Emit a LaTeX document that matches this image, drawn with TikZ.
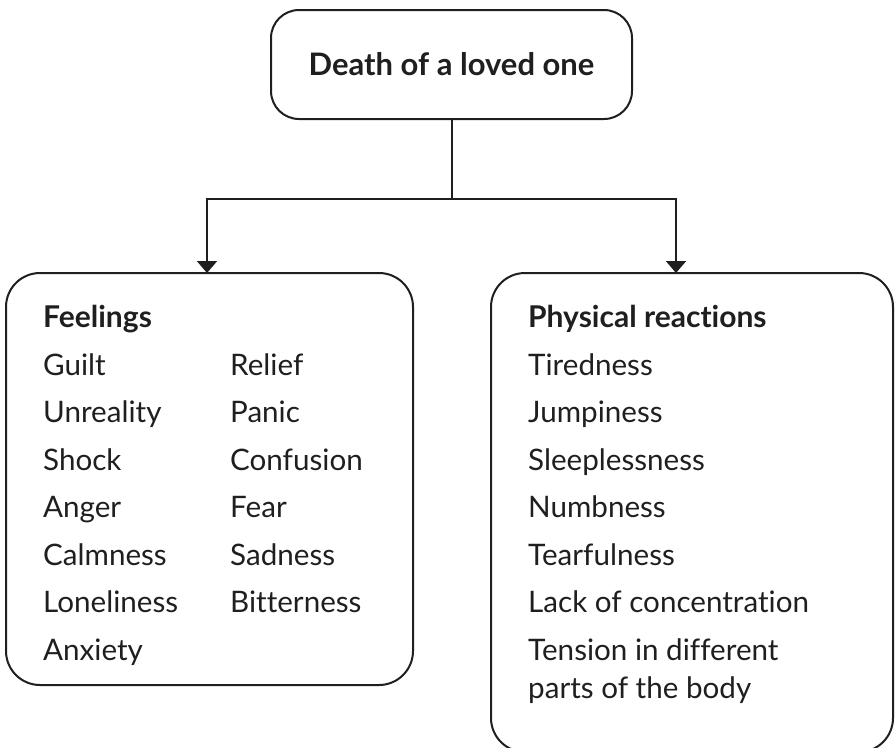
\documentclass[tikz,border=0pt]{standalone}
\usepackage{fontspec}
\setmainfont{Lato}[Ligatures=NoCommon]
\usetikzlibrary{arrows.meta}
\tikzset{
  box/.style={draw=black!88, line width=2pt, rounded corners=34pt, inner sep=0pt},
  topbox/.style={draw=black!88, line width=2pt, rounded corners=28pt, inner sep=0pt, minimum width=361pt, minimum height=109pt, font=\fontsize{31}{36}\selectfont\bfseries},
  item/.style={anchor=base west, inner sep=0pt, text=black!88, font=\fontsize{29.6}{34}\selectfont},
  head/.style={item, font=\fontsize{30}{34}\selectfont\bfseries},
  conn/.style={draw=black!88, line width=2pt},
  arr/.style={conn, -{Triangle[width=20pt,length=12pt]}}
}
\begin{document}
\begin{tikzpicture}[x=1pt,y=-1pt]
\useasboundingbox (0,0) rectangle (896,747);
\node[topbox, text=black!88] (top) at (451.5,64.5) {Death of a loved one};
\node[box, minimum width=407pt, minimum height=412pt] (left) at (209.5,479) {};
\node[box, minimum width=402pt, minimum height=479pt] (right) at (692,512.5) {};
\coordinate (j) at (451.5,199);
\coordinate (rtip) at (676,273);
\coordinate (ltip) at (207,273);
\draw[conn] (top.south) -- (j);
\draw[arr] (j) -| (ltip);
\draw[arr] (j) -| (rtip);
% left column
\node[head] (feel) at (43,327) {Feelings};
\node[item] (l1) at (43,375) {Guilt};
\node[item] (l2) at (43,422.5) {Unreality};
\node[item] (l3) at (43,470) {Shock};
\node[item] (l4) at (43,517.5) {Anger};
\node[item] (l5) at (43,565) {Calmness};
\node[item] (l6) at (43,612.5) {Loneliness};
\node[item] (l7) at (43,660) {Anxiety};
\node[item] (m1) at (230,375) {Relief};
\node[item] (m2) at (230,422.5) {Panic};
\node[item] (m3) at (230,470) {Confusion};
\node[item] (m4) at (230,517.5) {Fear};
\node[item] (m5) at (230,565) {Sadness};
\node[item] (m6) at (230,612.5) {Bitterness};
% right column
\node[head] (phys) at (528,327) {Physical reactions};
\node[item] (r1) at (528,375) {Tiredness};
\node[item] (r2) at (528,422.5) {Jumpiness};
\node[item] (r3) at (528,470) {Sleeplessness};
\node[item] (r4) at (528,517.5) {Numbness};
\node[item] (r5) at (528,565) {Tearfulness};
\node[item] (r6) at (528,612.5) {Lack of concentration};
\node[item] (r7) at (528,660) {Tension in different};
\node[item] (r8) at (528,698) {parts of the body};
\end{tikzpicture}
\end{document}
